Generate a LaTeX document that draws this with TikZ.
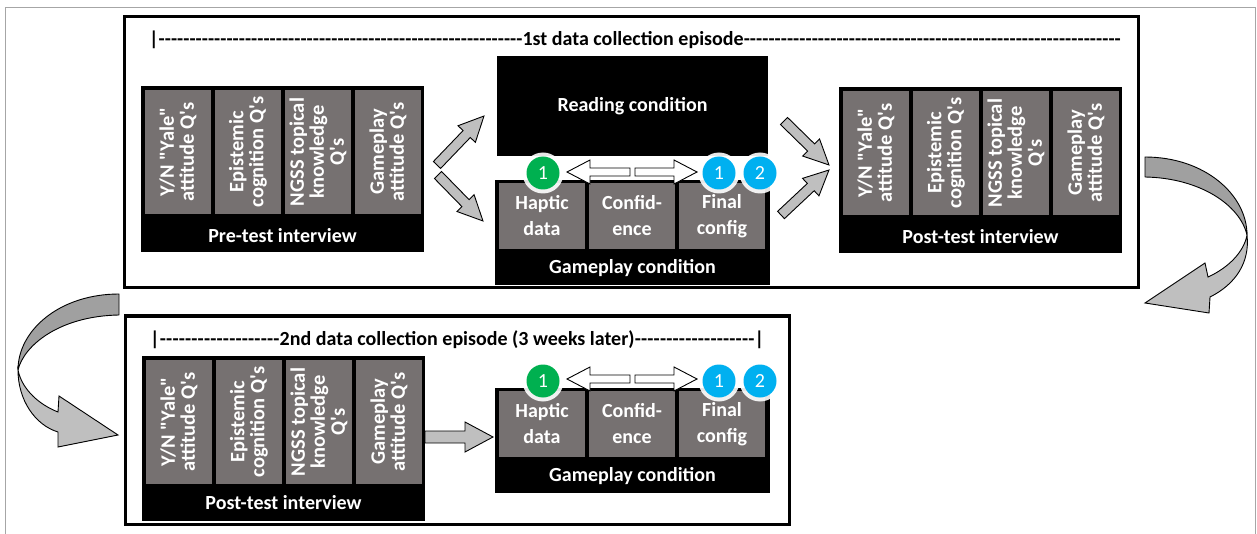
\documentclass[tikz,border=0pt]{standalone}
\usepackage{fontspec}
\setmainfont{Carlito}[Ligatures=TeXOff]
\usetikzlibrary{calc}
\definecolor{colgray}{RGB}{118,113,113}
\definecolor{arrgray}{RGB}{191,191,191}
\definecolor{ribdark}{RGB}{160,160,160}
\definecolor{cgreen}{RGB}{0,176,80}
\definecolor{cblue}{RGB}{0,176,240}
\newcommand\barrow[6]{%
  \path[#1] let \p1=(#2), \p2=(#3), \n1={atan2(\y2-\y1,\x2-\x1)},
     \n2={veclen(\x2-\x1,\y2-\y1)}, \n3={\n2-#6pt} in
     [shift={(\p1)}, rotate=\n1]
     (0pt,#4pt) -- (\n3,#4pt) -- (\n3,#5pt) -- (\n2,0pt)
     -- (\n3,-#5pt) -- (\n3,-#4pt) -- (0pt,-#4pt) -- cycle;}
\tikzset{
  blk/.style={fill=black, inner sep=0pt, outer sep=0pt, anchor=north west},
  qcol/.style={fill=colgray, text=white, rotate=90, minimum width=124pt,
    minimum height=66pt, inner sep=0pt, align=center,
    font=\bfseries\fontsize{20.5}{20}\selectfont},
  gcol/.style={fill=colgray, text=white, minimum width=86pt, minimum height=66pt,
    inner sep=0pt, align=center, font=\bfseries\fontsize{20}{26}\selectfont},
  lbl/.style={text=white, font=\bfseries\fontsize{20}{24}\selectfont, inner sep=0pt},
  hdr/.style={font=\bfseries\fontsize{20}{24}\selectfont, inner sep=0pt, anchor=west},
  episode/.style={draw=black, line width=3pt, inner sep=0pt, outer sep=0pt, anchor=north west},
  barr/.style={draw=black, line width=0.9pt, fill=arrgray, line join=miter},
  darr/.style={draw=black, line width=0.9pt, fill=white, line join=miter},
  glow/.style={circle, fill=white, fill opacity=0.9, inner sep=0pt, minimum size=41pt},
  badge/.style={circle, inner sep=0pt, minimum size=33pt, text=white,
    font=\fontsize{20}{24}\selectfont},
}
\begin{document}
\begin{tikzpicture}[x=1pt,y=-1pt]
\useasboundingbox (0,0) rectangle (1257,534);
% outer frame
\draw[gray!70, line width=0.8pt] (5,534) -- (5,7) -- (1255,7) -- (1255,534);

% episode frames
\node[episode, minimum width=1014pt, minimum height=271pt] (ep1) at (124,17) {};
\node[episode, minimum width=664pt, minimum height=208pt] (ep2) at (125,316) {};

% headers
\node[hdr] (h1) at (149,40) {\hbox to 972pt{|\hbox to 364pt{\xleaders\hbox{-}\hfill}1st data collection episode\xleaders\hbox{-}\hfill}};
\node[hdr] (h2) at (150,340) {\hbox to 614pt{|\xleaders\hbox{-}\hfill 2nd data collection episode (3 weeks later)\xleaders\hbox{-}\hfill|}};

% pre-test interview
\node[blk, minimum width=283pt, minimum height=166pt] (pre) at (141,86) {};
\node[qcol] (pre1) at (178,152) {Y/N "Yale"\\attitude Q's};
\node[qcol] (pre2) at (248,152) {Epistemic\\cognition Q's};
\node[qcol] (pre3) at (318,152) {NGSS topical\\knowledge\\Q's};
\node[qcol] (pre4) at (388,152) {Gameplay\\attitude Q's};
\node[lbl] (prel) at (282.5,236) {Pre-test interview};

% reading condition
\node[blk, minimum width=271pt, minimum height=100pt, text=white,
  font=\bfseries\fontsize{20}{24}\selectfont] (read) at (497,56) {Reading condition};

% gameplay condition 1
\node[blk, minimum width=275pt, minimum height=105pt] (game1) at (495,180) {};
\node[gcol] (g1a) at (542,216) {Haptic\\data};
\node[gcol] (g1b) at (632,216) {Confid-\\ence};
\node[gcol] (g1c) at (722,216) {Final\\config};
\node[lbl] (g1l) at (632.5,268) {Gameplay condition};

% post-test interview 1
\node[blk, minimum width=283pt, minimum height=166pt] (post1) at (839,87) {};
\node[qcol] (p1a) at (876,153) {Y/N "Yale"\\attitude Q's};
\node[qcol] (p1b) at (946,153) {Epistemic\\cognition Q's};
\node[qcol] (p1c) at (1016,153) {NGSS topical\\knowledge\\Q's};
\node[qcol] (p1d) at (1086,153) {Gameplay\\attitude Q's};
\node[lbl] (p1l) at (980.5,237) {Post-test interview};

% post-test interview 2
\node[blk, minimum width=283pt, minimum height=165pt] (post2) at (142,356) {};
\node[qcol] (p2a) at (179,422) {Y/N "Yale"\\attitude Q's};
\node[qcol] (p2b) at (249,422) {Epistemic\\cognition Q's};
\node[qcol] (p2c) at (319,422) {NGSS topical\\knowledge\\Q's};
\node[qcol] (p2d) at (389,422) {Gameplay\\attitude Q's};
\node[lbl] (p2l) at (283.5,503) {Post-test interview};

% gameplay condition 2
\node[blk, minimum width=275pt, minimum height=105pt] (game2) at (495,388) {};
\node[gcol] (g2a) at (542,424) {Haptic\\data};
\node[gcol] (g2b) at (632,424) {Confid-\\ence};
\node[gcol] (g2c) at (722,424) {Final\\config};
\node[lbl] (g2l) at (632.5,476) {Gameplay condition};

% straight block arrows
\coordinate (a1s) at (437,165); \coordinate (a1e) at (484,116);
\coordinate (a2s) at (438,175); \coordinate (a2e) at (483,221);
\coordinate (a3s) at (784,121); \coordinate (a3e) at (829,165);
\coordinate (a4s) at (781,215); \coordinate (a4e) at (829,170);
\coordinate (a5s) at (425,437); \coordinate (a5e) at (493,437);
\barrow{barr}{a1s}{a1e}{5}{12}{25}
\barrow{barr}{a2s}{a2e}{5}{12}{25}
\barrow{barr}{a3s}{a3e}{5}{12}{25}
\barrow{barr}{a4s}{a4e}{5}{12}{25}
\barrow{barr}{a5s}{a5e}{6}{15}{28}

% double arrows between badges
\coordinate (d1ml) at (630,172); \coordinate (d1l) at (567,172);
\coordinate (d1mr) at (635,172); \coordinate (d1r) at (697,172);
\barrow{darr}{d1ml}{d1l}{4}{12}{23}
\barrow{darr}{d1mr}{d1r}{4}{12}{23}
\coordinate (d2ml) at (630,379); \coordinate (d2l) at (567,379);
\coordinate (d2mr) at (635,379); \coordinate (d2r) at (697,379);
\barrow{darr}{d2ml}{d2l}{4}{12}{23}
\barrow{darr}{d2mr}{d2r}{4}{12}{23}

% badges
\node[glow] (b1gw) at (543,173) {};
\node[glow] (b2gw) at (719,173) {};
\node[glow] (b3gw) at (760,173) {};
\node[badge, fill=cgreen] (b1) at (543,173) {1};
\node[badge, fill=cblue] (b2) at (719,173) {1};
\node[badge, fill=cblue] (b3) at (760,173) {2};
\node[glow] (c1gw) at (543,381) {};
\node[glow] (c2gw) at (719,381) {};
\node[glow] (c3gw) at (760,381) {};
\node[badge, fill=cgreen] (c1) at (543,381) {1};
\node[badge, fill=cblue] (c2) at (719,381) {1};
\node[badge, fill=cblue] (c3) at (760,381) {2};

% curved ribbon arrow (right)
\draw[line width=0.9pt, fill=ribdark, line join=round]
  (1145,157) .. controls (1205,157) and (1247,195) .. (1247,235)
  .. controls (1240,205) and (1200,178) .. (1145,177) -- cycle;
\draw[line width=0.9pt, fill=arrgray, line join=miter]
  (1247,235) .. controls (1250,262) and (1236,284) .. (1210,297)
  -- (1209,313) -- (1145,303) -- (1205,263) -- (1208,277)
  .. controls (1228,268) and (1244,252) .. (1247,235) -- cycle;

% curved ribbon arrow (left)
\draw[line width=0.9pt, fill=ribdark, line join=round]
  (119,294) .. controls (60,294) and (18,330) .. (18,370)
  .. controls (24,345) and (60,316) .. (119,315) -- cycle;
\draw[line width=0.9pt, fill=arrgray, line join=miter]
  (18,370) .. controls (18,400) and (35,425) .. (58,432)
  -- (58,447) -- (118,435) -- (59,396) -- (58,412)
  .. controls (40,405) and (22,390) .. (18,370) -- cycle;
\end{tikzpicture}
\end{document}
